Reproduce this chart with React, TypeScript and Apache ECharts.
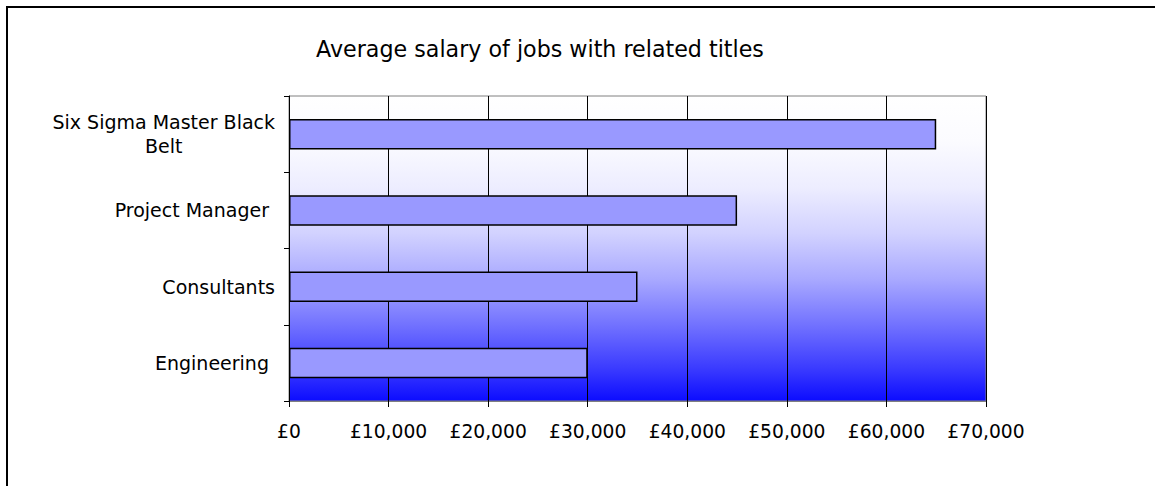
import React, { useEffect, useRef } from "react";
import * as echarts from "echarts";

const categories = ["Six Sigma Master Black Belt", "Project Manager ", "Consultants", "Engineering "];
const salaries = [65000, 45000, 35000, 30000];
const xTicks = { min: 0, max: 70000, interval: 10000 };
const titleText = "Average salary of jobs with related titles";

export default function App() {
  const ref = useRef<HTMLDivElement>(null);
  useEffect(() => {
    if (!ref.current) return;
    const chart = echarts.init(ref.current, null, { renderer: "svg" });
    const font = "DejaVu Sans";
    chart.setOption({
      animation: false,
      backgroundColor: "#ffffff",
      title: {
        text: titleText,
        left: 535,
        top: 33,
        textAlign: "center",
        textStyle: { fontFamily: font, fontSize: 22.2, fontWeight: "normal", color: "#000" },
      },
      graphic: [
        {
          type: "polyline",
          shape: { points: [[7, 500], [7, 7], [1200, 7]] },
          style: { stroke: "#000", lineWidth: 2, fill: null },
          silent: true,
        },
      ],
      grid: {
        left: 289,
        top: 96,
        width: 697,
        height: 305,
        show: true,
        borderColor: "#808080",
        borderWidth: 1,
        backgroundColor: new echarts.graphic.LinearGradient(0, 0, 0, 1, [
          { offset: 0, color: "#ffffff" },
          { offset: 0.15, color: "#fbfbff" },
          { offset: 0.3, color: "#ededff" },
          { offset: 0.45, color: "#d2d2ff" },
          { offset: 0.6, color: "#a9a9ff" },
          { offset: 0.75, color: "#7272ff" },
          { offset: 0.9, color: "#3838ff" },
          { offset: 1, color: "#0c0cff" },
        ]),
      },
      xAxis: {
        type: "value",
        min: xTicks.min,
        max: xTicks.max,
        interval: xTicks.interval,
        axisLine: { show: true, lineStyle: { color: "#808080", width: 1 } },
        axisTick: { show: true, length: 6, lineStyle: { color: "#000" } },
        splitLine: { show: true, lineStyle: { color: "#000", width: 1 } },
        axisLabel: {
          fontFamily: font,
          fontSize: 18.7,
          color: "#000",
          margin: 21,
          formatter: (v: number) => "£" + v.toLocaleString("en-GB"),
        },
      },
      yAxis: {
        type: "category",
        inverse: true,
        data: categories,
        axisLine: { show: true, lineStyle: { color: "#000", width: 1 } },
        axisTick: { show: true, length: 5, lineStyle: { color: "#000" } },
        axisLabel: {
          fontFamily: font,
          fontSize: 19,
          color: "#000",
          margin: 14,
          lineHeight: 24,
          formatter: (v: string) => {
            if (v === categories[0]) return "{c|Six Sigma Master Black}\n{c|Belt}";
            return v;
          },
          rich: {
            c: { fontFamily: font, fontSize: 19, color: "#000", align: "center", lineHeight: 24 },
          },
        },
      },
      series: [
        {
          type: "bar",
          data: salaries,
          barWidth: "40%",
          itemStyle: { color: "#9999ff", borderColor: "#000", borderWidth: 1.5 },
        },
      ],
    });
    return () => chart.dispose();
  }, []);
  return (
    <div style={{ position: "fixed", left: 0, top: 0, width: 1155, height: 486, background: "#fff" }}>
      <div ref={ref} style={{ width: 1155, height: 486 }} />
    </div>
  );
}
